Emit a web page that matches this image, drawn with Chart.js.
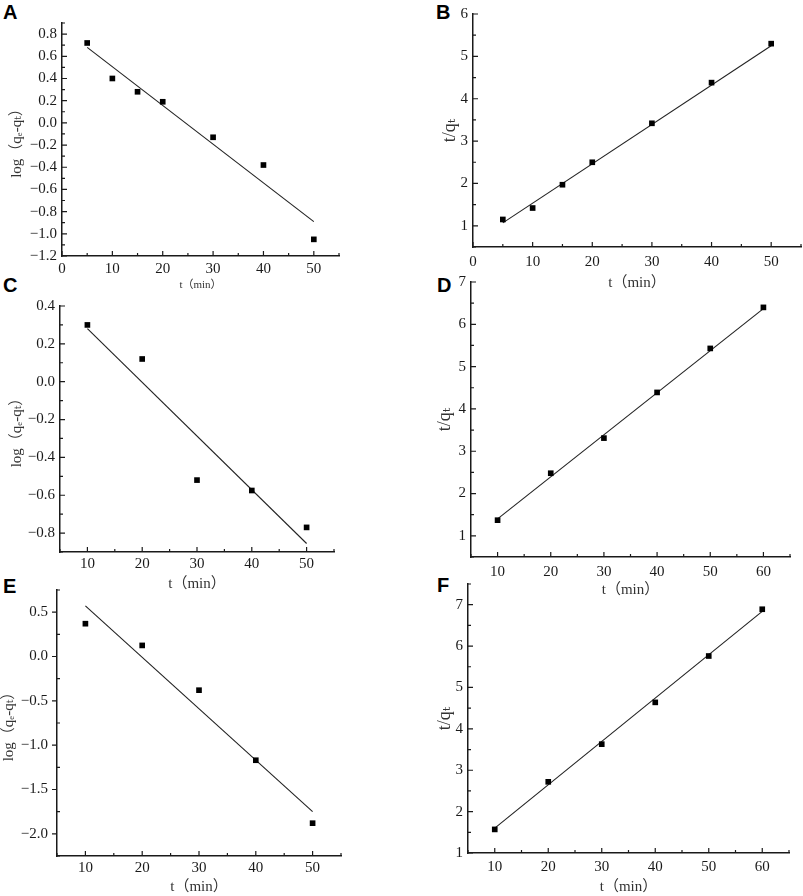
<!DOCTYPE html>
<html>

<head>
  <title>Kinetic model fits</title>
  <script src="https://cdn.jsdelivr.net/npm/chart.js"></script>
  <style>
    body {
      margin: 0;
      background: #fff;
      width: 803px;
      height: 896px;
      position: relative;
      overflow: hidden;
    }

    canvas {
      position: absolute;
    }

    .tag {
      position: absolute;
      font: bold 20px 'Liberation Sans', Arial, sans-serif;
      line-height: 20px;
      color: #000;
    }
  </style>
</head>

<body>
  <div class="tag" style="left:3px;top:2px">A</div>
  <div class="tag" style="left:436px;top:2px">B</div>
  <div class="tag" style="left:3px;top:275px">C</div>
  <div class="tag" style="left:437px;top:275px">D</div>
  <div class="tag" style="left:3px;top:576px">E</div>
  <div class="tag" style="left:437px;top:575px">F</div>

  <canvas id="chartA"></canvas>
  <canvas id="chartB"></canvas>
  <canvas id="chartC"></canvas>
  <canvas id="chartD"></canvas>
  <canvas id="chartE"></canvas>
  <canvas id="chartF"></canvas>

  <script>
    // A: pseudo-first-order, run 1
    const tA = [5, 10, 15, 20, 30, 40, 50];
    const logA = [0.72, 0.40, 0.28, 0.19, -0.13, -0.38, -1.05];
    const fitTA = [5, 50];
    const fitA = [0.68, -0.89];
    const xTicksA = [0, 10, 20, 30, 40, 50];
    const yTicksA = [-1.2, -1.0, -0.8, -0.6, -0.4, -0.2, 0.0, 0.2, 0.4, 0.6, 0.8];

    // B: pseudo-second-order, run 1
    const tB = [5, 10, 15, 20, 30, 40, 50];
    const ratioB = [1.15, 1.42, 1.97, 2.50, 3.42, 4.38, 5.30];
    const fitTB = [5, 50];
    const fitB = [1.07, 5.25];
    const xTicksB = [0, 10, 20, 30, 40, 50];
    const yTicksB = [1, 2, 3, 4, 5, 6];

    // C: pseudo-first-order, run 2
    const tC = [10, 20, 30, 40, 50];
    const logC = [0.30, 0.12, -0.52, -0.575, -0.77];
    const fitTC = [10, 50];
    const fitC = [0.28, -0.855];
    const xTicksC = [10, 20, 30, 40, 50];
    const yTicksC = [-0.8, -0.6, -0.4, -0.2, 0.0, 0.2, 0.4];

    // D: pseudo-second-order, run 2
    const tD = [10, 20, 30, 40, 50, 60];
    const ratioD = [1.37, 2.48, 3.31, 4.39, 5.43, 6.40];
    const fitTD = [10, 60];
    const fitD = [1.40, 6.37];
    const xTicksD = [10, 20, 30, 40, 50, 60];
    const yTicksD = [1, 2, 3, 4, 5, 6, 7];

    // E: pseudo-first-order, run 3
    const tE = [10, 20, 30, 40, 50];
    const logE = [0.37, 0.125, -0.38, -1.17, -1.88];
    const fitTE = [10, 50];
    const fitE = [0.57, -1.75];
    const xTicksE = [10, 20, 30, 40, 50];
    const yTicksE = [-2.0, -1.5, -1.0, -0.5, 0.0, 0.5];

    // F: pseudo-second-order, run 3
    const tF = [10, 20, 30, 40, 50, 60];
    const ratioF = [1.57, 2.72, 3.63, 4.64, 5.76, 6.89];
    const fitTF = [10, 60];
    const fitF = [1.60, 6.84];
    const xTicksF = [10, 20, 30, 40, 50, 60];
    const yTicksF = [1, 2, 3, 4, 5, 6, 7];

    const LOG_TITLE = 'log（qₑ-qₜ）';
    const RATIO_TITLE = 't/qₜ';
    const TIME_TITLE = 't（min）';

    const SERIF = "'Liberation Serif', 'DejaVu Serif', 'Noto Sans CJK SC', serif";
    const INK = '#1a1a1a';

    // box = canvas rect on page, plot = chart area on page (l, t, r, b)
    const panels = [
      { id: 'chartA', box: [0, 0, 400, 292], plot: [62, 23, 339, 256], t: tA, v: logA, ft: fitTA, fv: fitA,
        xr: [0, 55], yr: [-1.2, 0.9], xt: xTicksA, yt: yTicksA, dec: 1, yTitle: LOG_TITLE,
        yTitleX: 17, yTitleSize: 15, xTitleSize: 11, xPad: 4, yDir: 1 },
      { id: 'chartB', box: [400, 0, 403, 292], plot: [473, 6, 801, 247], t: tB, v: ratioB, ft: fitTB, fv: fitB,
        xr: [0, 55], yr: [0.5, 6], xt: xTicksB, yt: yTicksB, dec: 0, yTitle: RATIO_TITLE,
        yTitleX: 450, yTitleSize: 18, xTitleSize: 15, xPad: 6, yDir: 1 },
      { id: 'chartC', box: [0, 292, 400, 301], plot: [60, 301, 334, 552], t: tC, v: logC, ft: fitTC, fv: fitC,
        xr: [5, 55], yr: [-0.9, 0.4], xt: xTicksC, yt: yTicksC, dec: 1, yTitle: LOG_TITLE,
        yTitleX: 17, yTitleSize: 15, xTitleSize: 15, xPad: 3, yDir: 1 },
      { id: 'chartD', box: [400, 268, 403, 331], plot: [471, 279, 790, 557], t: tD, v: ratioD, ft: fitTD, fv: fitD,
        xr: [5, 65], yr: [0.5, 7], xt: xTicksD, yt: yTicksD, dec: 0, yTitle: RATIO_TITLE,
        yTitleX: 445, yTitleSize: 18, xTitleSize: 15, xPad: 6, yDir: 1 },
      { id: 'chartE', box: [0, 572, 400, 324], plot: [57, 585, 341, 856], t: tE, v: logE, ft: fitTE, fv: fitE,
        xr: [5, 55], yr: [-2.25, 0.75], xt: xTicksE, yt: yTicksE, dec: 1, yTitle: LOG_TITLE,
        yTitleX: 9, yTitleSize: 15, xTitleSize: 15, xPad: 3, yDir: -1 },
      { id: 'chartF', box: [400, 570, 403, 326], plot: [468, 577, 789, 853], t: tF, v: ratioF, ft: fitTF, fv: fitF,
        xr: [5, 65], yr: [1, 7.5], xt: xTicksF, yt: yTicksF, dec: 0, yTitle: RATIO_TITLE,
        yTitleX: 445, yTitleSize: 18, xTitleSize: 15, xPad: 5, yDir: 1 }
    ];

    function fmt(v, dec) {
      return v.toFixed(dec).replace('-', '−');
    }

    function halfSteps(ticks, lo, hi) {
      const step = ticks[1] - ticks[0];
      const out = [];
      for (let v = ticks[0] - step / 2; v >= lo - 1e-9; v -= step) out.push(v);
      for (let v = ticks[0] + step / 2; v <= hi + 1e-9; v += step) out.push(v);
      return out;
    }

    // Origin-style tick marks: drawn inside the plot (or outside when dir < 0)
    const axisTicks = {
      id: 'axisTicks',
      afterDraw(chart, args, opts) {
        const { ctx, chartArea: a, scales: { x, y } } = chart;
        ctx.save();
        ctx.strokeStyle = INK;
        ctx.lineWidth = 1.2;
        ctx.beginPath();
        opts.xMajor.forEach(v => {
          const px = x.getPixelForValue(v);
          ctx.moveTo(px, a.bottom); ctx.lineTo(px, a.bottom - 5);
        });
        opts.xMinor.forEach(v => {
          const px = x.getPixelForValue(v);
          ctx.moveTo(px, a.bottom); ctx.lineTo(px, a.bottom - 3);
        });
        opts.yMajor.forEach(v => {
          const py = y.getPixelForValue(v);
          ctx.moveTo(a.left, py); ctx.lineTo(a.left + 5 * opts.yDir, py);
        });
        opts.yMinor.forEach(v => {
          const py = y.getPixelForValue(v);
          ctx.moveTo(a.left, py); ctx.lineTo(a.left + 3, py);
        });
        ctx.stroke();
        ctx.restore();
      }
    };

    function drawPanel(p) {
      const [bx, by, bw, bh] = p.box;
      const [pl, pt, pr, pb] = p.plot;
      const canvas = document.getElementById(p.id);
      canvas.width = bw;
      canvas.height = bh;
      canvas.style.left = bx + 'px';
      canvas.style.top = by + 'px';

      const yW = pl - bx;
      const xH = by + bh - pb;
      const yLine = p.yTitleSize * 1.2;

      new Chart(canvas.getContext('2d'), {
        type: 'scatter',
        data: {
          datasets: [
            {
              label: 'data',
              data: p.t.map((t, i) => ({ x: t, y: p.v[i] })),
              pointStyle: 'rect',
              pointRadius: 4,
              backgroundColor: '#000',
              borderColor: '#000',
              borderWidth: 0,
              showLine: false
            },
            {
              label: 'fit',
              data: p.ft.map((t, i) => ({ x: t, y: p.fv[i] })),
              showLine: true,
              borderColor: '#222',
              borderWidth: 1.1,
              pointRadius: 0,
              fill: false
            }
          ]
        },
        plugins: [axisTicks],
        options: {
          responsive: false,
          animation: false,
          events: [],
          layout: {
            autoPadding: false,
            padding: { left: 0, top: pt - by, right: bx + bw - pr, bottom: 0 }
          },
          plugins: {
            legend: { display: false },
            tooltip: { enabled: false },
            axisTicks: {
              xMajor: p.xt,
              xMinor: halfSteps(p.xt, p.xr[0], p.xr[1]),
              yMajor: p.yt,
              yMinor: halfSteps(p.yt, p.yr[0], p.yr[1]),
              yDir: p.yDir
            }
          },
          scales: {
            x: {
              type: 'linear',
              min: p.xr[0],
              max: p.xr[1],
              afterBuildTicks: s => { s.ticks = p.xt.map(v => ({ value: v })); },
              afterFit: s => { s.height = xH; },
              grid: { display: false, drawTicks: false, tickLength: 0 },
              border: { display: true, color: INK, width: 1.5 },
              ticks: {
                autoSkip: false,
                maxRotation: 0,
                padding: p.xPad,
                color: INK,
                font: { family: SERIF, size: 15 },
                callback: v => fmt(v, 0)
              },
              title: {
                display: true,
                text: TIME_TITLE,
                color: '#333',
                font: { family: SERIF, size: p.xTitleSize, lineHeight: 1.2 },
                padding: { top: 0, bottom: 0 }
              }
            },
            y: {
              type: 'linear',
              min: p.yr[0],
              max: p.yr[1],
              afterBuildTicks: s => { s.ticks = p.yt.map(v => ({ value: v })); },
              afterFit: s => { s.width = yW; },
              grid: { display: false, drawTicks: false, tickLength: 0 },
              border: { display: true, color: INK, width: 1.5 },
              ticks: {
                autoSkip: false,
                padding: p.yDir > 0 ? 5 : 9,
                color: INK,
                font: { family: SERIF, size: 15 },
                callback: v => fmt(v, p.dec)
              },
              title: {
                display: true,
                text: p.yTitle,
                color: '#333',
                font: { family: SERIF, size: p.yTitleSize, lineHeight: 1.2 },
                padding: { top: Math.max(0, p.yTitleX - bx - yLine / 2), bottom: 0 }
              }
            }
          }
        }
      });
    }

    panels.forEach(drawPanel);
  </script>
</body>

</html>
